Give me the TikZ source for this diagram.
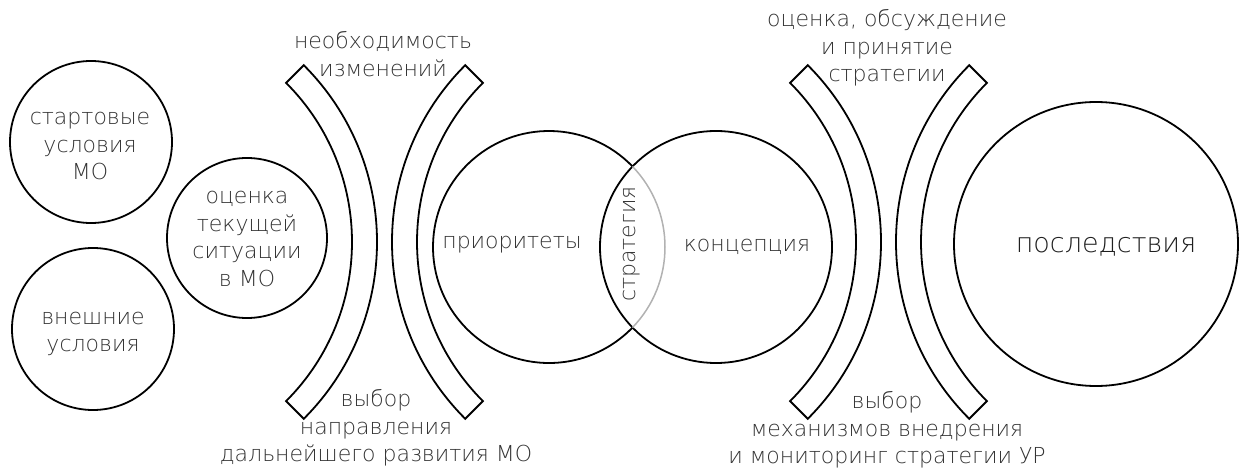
\documentclass[tikz,border=0pt]{standalone}
\usepackage{fontspec}
\setmainfont{DejaVu Sans ExtraLight}
\begin{document}
\begin{tikzpicture}[x=1pt,y=1pt,
  ln/.style={draw=black,line width=1.8pt},
  lensarc/.style={draw=black!30,line width=1.5pt},
  circ/.style={circle,ln,inner sep=0pt,outer sep=0pt},
  txt/.style={align=center,text=black!80,inner sep=0pt,font=\fontsize{22}{27.5}\selectfont},
  bigtxt/.style={align=center,text=black!88,inner sep=0pt,font=\fontsize{27}{32}\selectfont}]
\useasboundingbox (0,0) rectangle (1242,-470);
% left circles
\node[circ,minimum size=162pt] (c1) at (91,-142) {};
\node[circ,minimum size=162pt] (c2) at (93,-329) {};
\node[circ,minimum size=160pt] (c3) at (247,-238) {};
\node[txt] (t1) at (90,-146) {стартовые\\условия\\МО};
\node[txt] (t2) at (93,-334) {внешние\\условия};
\node[txt] (t3) at (247,-239) {оценка\\текущей\\ситуации\\в МО};
% band centres
\coordinate (b1) at (127,-242);
\coordinate (b2) at (642,-242);
\coordinate (b3) at (631,-242);
\coordinate (b4) at (1146,-242);
\draw[ln] ([shift={(-45:225)}]b1) arc[start angle=-45,end angle=45,radius=225]
  -- ([shift={(45:250)}]b1) arc[start angle=45,end angle=-45,radius=250] -- cycle;
\draw[ln] ([shift={(135:225)}]b2) arc[start angle=135,end angle=225,radius=225]
  -- ([shift={(225:250)}]b2) arc[start angle=225,end angle=135,radius=250] -- cycle;
\draw[ln] ([shift={(-45:225)}]b3) arc[start angle=-45,end angle=45,radius=225]
  -- ([shift={(45:250)}]b3) arc[start angle=45,end angle=-45,radius=250] -- cycle;
\draw[ln] ([shift={(135:225)}]b4) arc[start angle=135,end angle=225,radius=225]
  -- ([shift={(225:250)}]b4) arc[start angle=225,end angle=135,radius=250] -- cycle;
\node[txt] (n1) at (383,-54) {необходимость\\изменений};
\node[txt] (n2) at (376,-428) {выбор\\направления\\дальнейшего развития МО};
\node[txt] (n3) at (887,-48) {оценка, обсуждение\\и принятие\\стратегии};
\node[txt] (n4) at (887,-430) {выбор\\механизмов внедрения\\и мониторинг стратегии УР};
% venn
\node[circle,inner sep=0pt,outer sep=0pt,minimum size=232pt] (prio) at (549,-247) {};
\node[circ,minimum size=232pt] (konc) at (716,-247) {};
\draw[ln] (prio.44) arc[start angle=44,end angle=316,radius=116];
\draw[lensarc] (prio.-44) arc[start angle=-44,end angle=44,radius=116];
\node[txt] (tp) at (512,-245) {приоритеты};
\node[txt] (tk) at (747,-247) {концепция};
\node[txt,rotate=90] (ts) at (632,-244) {стратегия};
% consequences
\node[circ,minimum size=284pt] (post) at (1096,-244) {};
\node[bigtxt] (tpost) at (1106,-247) {последствия};
\end{tikzpicture}
\end{document}
